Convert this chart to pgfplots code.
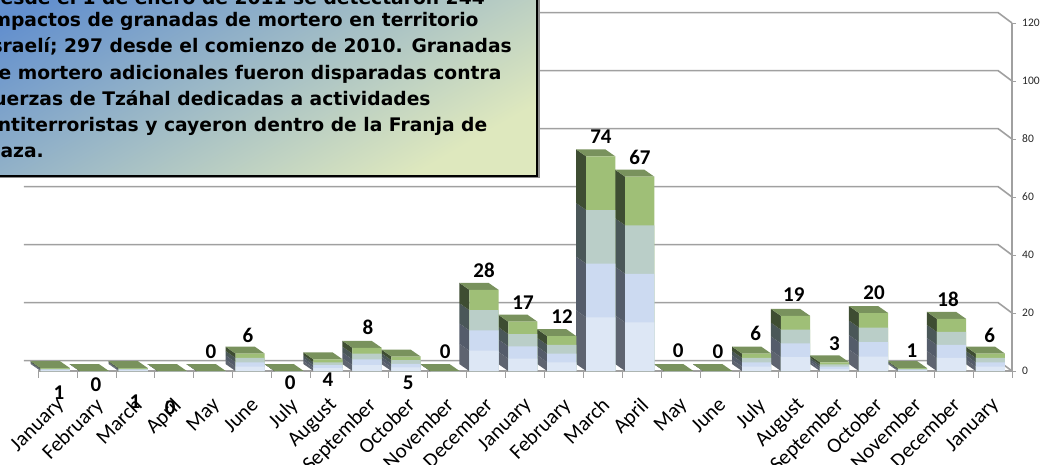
\documentclass[border=0pt]{standalone}
\usepackage{pgfplots}
\pgfplotsset{compat=1.18}
\usepackage{pgfplotstable}
\usepackage{fontspec}
\setmainfont{Carlito}
\newfontfamily\boxfont{DejaVu Sans}

\definecolor{bandA}{RGB}{221,231,245}
\definecolor{bandB}{RGB}{204,218,241}
\definecolor{bandC}{RGB}{186,206,200}
\definecolor{bandD}{RGB}{159,191,119}
\definecolor{sideA}{RGB}{94,100,112}
\definecolor{sideB}{RGB}{84,92,106}
\definecolor{sideC}{RGB}{74,87,88}
\definecolor{sideD}{RGB}{62,77,50}
\definecolor{topF}{RGB}{121,146,93}
\definecolor{gridc}{RGB}{160,160,160}
\definecolor{boxA}{RGB}{98,143,206}
\definecolor{boxB}{RGB}{222,232,190}

% i = category, v = value, lx/ly = position of the value label
\pgfplotstableread{
i v lx ly
0 1 0.04 -7.6
1 0 0.99 -4.8
2 1 1.99 -10.7
3 0 2.89 -12.8
4 0 3.94 6.6
5 6 4.89 12.4
6 0 5.97 -4.1
7 4 6.94 -3.1
8 8 7.97 15.2
9 5 9.0 -4.1
10 0 9.95 6.6
11 28 10.95 34.8
12 17 11.95 23.4
13 12 12.95 18.6
14 74 13.95 80.7
15 67 14.95 73.8
16 0 15.93 6.9
17 0 16.95 6.6
18 6 17.92 12.9
19 19 18.9 26.2
20 3 19.94 9.5
21 20 20.96 26.9
22 1 21.93 6.9
23 18 22.86 24.8
24 6 23.93 12.4
}\data

% side and top faces of one 3D column: #1 = category, #2 = value
\newcommand\barfaces[2]{%
  \pgfmathsetmacro\xf{#1-0.43}%
  \pgfmathsetmacro\xr{#1+0.32}%
  \pgfmathsetmacro\xb{#1-0.687}%
  \pgfmathsetmacro\xbr{#1+0.063}%
  \pgfmathsetmacro\ya{#2/4}%
  \pgfmathsetmacro\yb{#2/2}%
  \pgfmathsetmacro\yc{3*#2/4}%
  \pgfmathsetmacro\yd{#2}%
  \pgfmathsetmacro\yaa{#2/4+2.41}%
  \pgfmathsetmacro\ybb{#2/2+2.41}%
  \pgfmathsetmacro\ycc{3*#2/4+2.41}%
  \pgfmathsetmacro\ydd{#2+2.41}%
  \edef\cmd{%
    \noexpand\fill[sideA] (axis cs:\xf,0) -- (axis cs:\xf,\ya) -- (axis cs:\xb,\yaa) -- (axis cs:\xb,2.41) -- cycle;
    \noexpand\fill[sideB] (axis cs:\xf,\ya) -- (axis cs:\xf,\yb) -- (axis cs:\xb,\ybb) -- (axis cs:\xb,\yaa) -- cycle;
    \noexpand\fill[sideC] (axis cs:\xf,\yb) -- (axis cs:\xf,\yc) -- (axis cs:\xb,\ycc) -- (axis cs:\xb,\ybb) -- cycle;
    \noexpand\fill[sideD] (axis cs:\xf,\yc) -- (axis cs:\xf,\yd) -- (axis cs:\xb,\ydd) -- (axis cs:\xb,\ycc) -- cycle;
    \noexpand\fill[topF] (axis cs:\xf,\yd) -- (axis cs:\xr,\yd) -- (axis cs:\xbr,\ydd) -- (axis cs:\xb,\ydd) -- cycle;
  }\cmd
}

\begin{document}
\begin{tikzpicture}[x=1pt,y=1pt]
\begin{axis}[
  at={(38pt,93pt)}, anchor=south west,
  scale only axis, width=974pt, height=348pt,
  xmin=-0.5, xmax=24.5, ymin=0, ymax=120,
  enlargelimits=false, clip=false,
  axis x line=bottom, axis y line=right,
  axis line style={gridc, line width=1.3pt, -},
  tick align=outside,
  major tick length=4pt, minor tick length=6.5pt,
  tick style={gridc, line width=0.8pt},
  major x tick style={draw=none},
  xtick={0,...,24},
  minor xtick={-0.5,0.5,...,24.5},
  xticklabels={January,February,March,April,May,June,July,August,September,October,November,December,January,February,March,April,May,June,July,August,September,October,November,December,January},
  xticklabel style={font=\fontsize{21}{21}\selectfont, inner sep=0pt, xshift=-2.5pt, yshift=-21pt, rotate=45, anchor=north east},
  ytick={0,20,...,120},
  yticklabel style={anchor=west, inner sep=0pt, font=\fontsize{11.5}{12}\selectfont, text=black!85, xshift=6pt},
  /pgf/number format/assume math mode=true,
]
% back wall gridlines
\pgfplotsinvokeforeach{0,20,...,120}{
  \draw[gridc, line width=1.6pt] (axis cs:-0.86,{#1+3.6}) -- (axis cs:24.14,{#1+3.6}) -- (axis cs:24.5,#1);
}
% side and top faces
\pgfplotsinvokeforeach{0,...,24}{%
  \pgfplotstablegetelem{#1}{v}\of\data
  \barfaces{#1}{\pgfplotsretval}%
}
% front faces, four equal bands
\addplot[ybar, bar width=29.2pt, bar shift=-2.14pt, fill=bandD, draw=none] table[x=i, y=v] {\data};
\addplot[ybar, bar width=29.2pt, bar shift=-2.14pt, fill=bandC, draw=none] table[x=i, y expr=3*\thisrow{v}/4] {\data};
\addplot[ybar, bar width=29.2pt, bar shift=-2.14pt, fill=bandB, draw=none] table[x=i, y expr=\thisrow{v}/2] {\data};
\addplot[ybar, bar width=29.2pt, bar shift=-2.14pt, fill=bandA, draw=none] table[x=i, y expr=\thisrow{v}/4] {\data};
% value labels
\addplot[draw=none, mark=none, nodes near coords, point meta=explicit,
  nodes near coords style={anchor=center, font=\bfseries\fontsize{21}{21}\selectfont, text=black}]
  table[x=lx, y=ly, meta=v] {\data};
\end{axis}
% text box
\fill[black!45] (-20pt,286pt) rectangle (540pt,500pt);
\shade[top color=boxA, bottom color=boxB, shading angle=30] (-20pt,288pt) rectangle (537pt,500pt);
\draw[black, line width=1.6pt] (-20pt,288pt) rectangle (537pt,500pt);
\begin{scope}[every node/.style={anchor=base west, inner sep=0pt, font=\boxfont\bfseries\fontsize{18.7}{20}\selectfont}]
\node at (-15pt,459pt) {Desde el 1 de enero de 2011 se detectaron 244};
\node at (-15pt,437.3pt) {impactos de granadas de mortero en territorio};
\node at (-15pt,411.1pt) {israelí; 297 desde el comienzo de 2010. Granadas};
\node at (-15pt,384.9pt) {de mortero adicionales fueron disparadas contra};
\node at (-15pt,358.7pt) {fuerzas de Tzáhal dedicadas a actividades};
\node at (-15pt,332.5pt) {antiterroristas y cayeron dentro de la Franja de};
\node at (-15pt,306.3pt) {Gaza.};
\end{scope}
\pgfresetboundingbox
\useasboundingbox (0,0) rectangle (1055pt,464pt);
\end{tikzpicture}
\end{document}
